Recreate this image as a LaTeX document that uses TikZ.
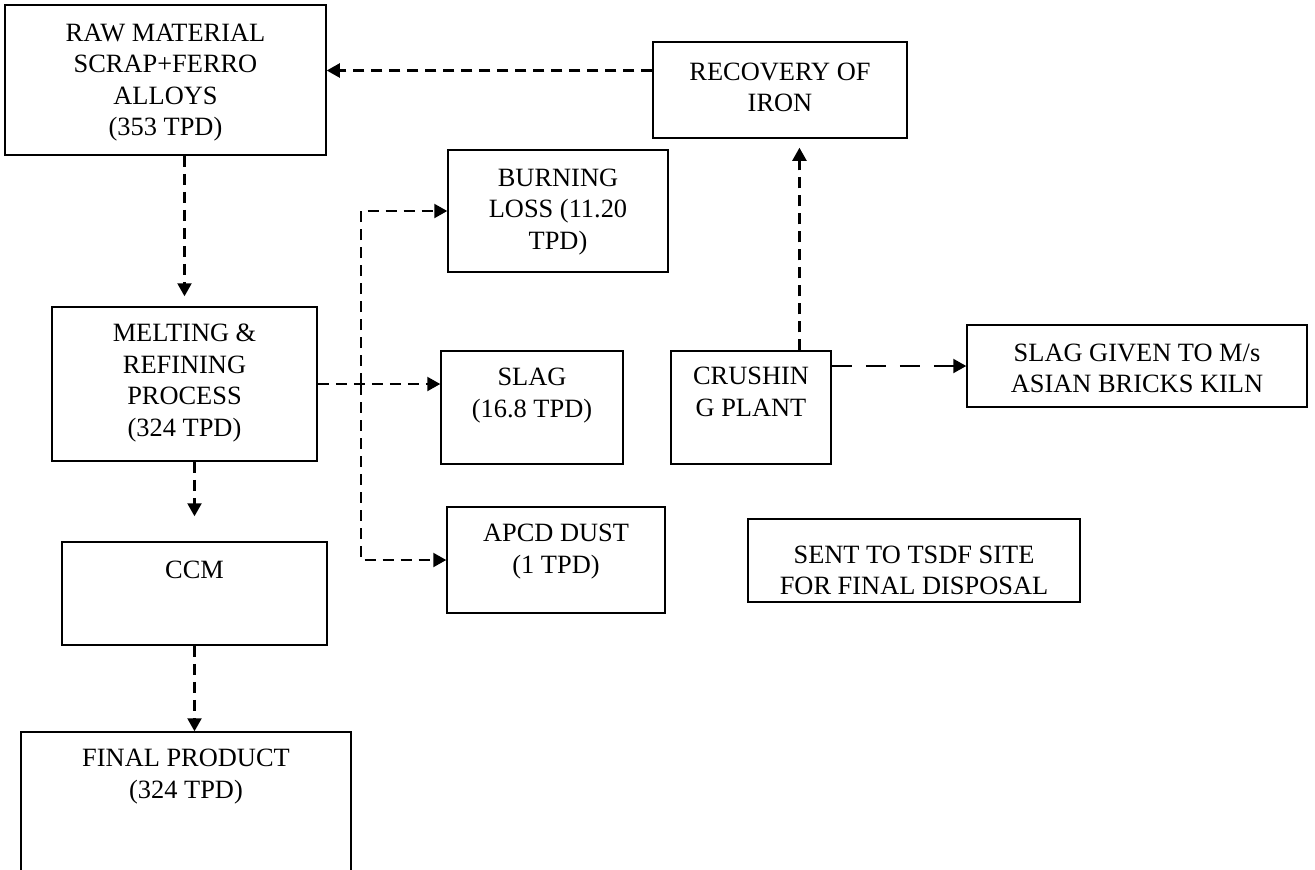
\documentclass[tikz,border=0pt]{standalone}
\usepackage{fontspec}
\setmainfont{Liberation Serif}
\usetikzlibrary{arrows.meta, positioning, fit, calc}

\tikzset{
  box/.style={draw, line width=0.75pt, inner sep=0pt},
  txt/.style={align=center, inner sep=0pt, font=\fontsize{13.2}{15.8}\selectfont},
  flow/.style={line width=1.1pt, dash pattern=on 5.5pt off 3.5pt,
               -{Triangle[length=6.5pt, width=7pt]}},
  longflow/.style={flow, dash pattern=on 10pt off 7pt},
}

\begin{document}
\begin{tikzpicture}[x=0.5pt, y=-0.5pt]
  \useasboundingbox (0,0) rectangle (1315,869);
  %% boxes, corners given in pixels of the chart
  \node[box, fit={(5,5) (326,155)}] (raw) {};
  \node[txt, below=9.5pt of raw.north] (rawt) {RAW MATERIAL\\SCRAP+FERRO\\ALLOYS\\(353 TPD)};
  \node[box, fit={(653,42) (907,138)}] (recovery) {};
  \node[txt, below=10.5pt of recovery.north] (recoveryt) {RECOVERY OF\\IRON};
  \node[box, fit={(448,150) (668,272)}] (burn) {};
  \node[txt, below=9.5pt of burn.north] (burnt) {BURNING\\LOSS (11.20\\TPD)};
  \node[box, fit={(52,307) (317,461)}] (melt) {};
  \node[txt, below=8.7pt of melt.north] (meltt) {MELTING \&\\REFINING\\PROCESS\\(324 TPD)};
  \node[box, fit={(441,351) (623,464)}] (slag) {};
  \node[txt, below=8.7pt of slag.north] (slagt) {SLAG\\(16.8 TPD)};
  \node[box, fit={(671,351) (831,464)}] (crush) {};
  \node[txt, below=8.2pt of crush.north] (crusht) {CRUSHIN\\G PLANT};
  \node[box, fit={(967,325) (1307,407)}] (given) {};
  \node[txt, below=9.5pt of given.north] (givent) {SLAG GIVEN TO M/s\\ASIAN BRICKS KILN};
  \node[box, fit={(62,542) (327,645)}] (ccm) {};
  \node[txt, below=9.5pt of ccm.north] (ccmt) {CCM};
  \node[box, fit={(447,507) (665,613)}] (apcd) {};
  \node[txt, below=8.7pt of apcd.north] (apcdt) {APCD DUST\\(1 TPD)};
  \node[box, fit={(748,519) (1080,602)}] (sent) {};
  \node[txt, below=13.5pt of sent.north] (sentt) {SENT TO TSDF SITE\\FOR FINAL DISPOSAL};
  \node[box, fit={(21,732) (351,880)}] (final) {};
  \node[txt, below=8.7pt of final.north] (finalt) {FINAL PRODUCT\\(324 TPD)};

  %% material flow
  \coordinate (ret) at ($(recovery.north west)!0.3!(recovery.south west)$);
  \draw[flow] (ret) -- (ret -| raw.east);
  \draw[flow, shorten >=5pt] (raw.south -| melt.north) -- (melt.north);
  \draw[flow, shorten >=12.5pt] (melt.south -| ccm.north) -- (ccm.north);
  \draw[flow] (ccm.south) -- (ccm.south |- final.north);

  %% wastes
  \coordinate (bus) at ($(melt.east)!0.35!(melt.east -| slag.west)$);
  \draw[flow] (melt.east) -- (melt.east -| slag.west);
  \draw[flow] (bus) |- (burn.west);
  \draw[flow] (bus) |- (apcd.west);

  %% slag handling
  \coordinate (up) at ($(crush.north west)!0.8!(crush.north east)$);
  \draw[flow, shorten >=4.5pt] (up) -- (up |- recovery.south);
  \draw[longflow] (crush.east |- given.west) -- (given.west);
\end{tikzpicture}
\end{document}
